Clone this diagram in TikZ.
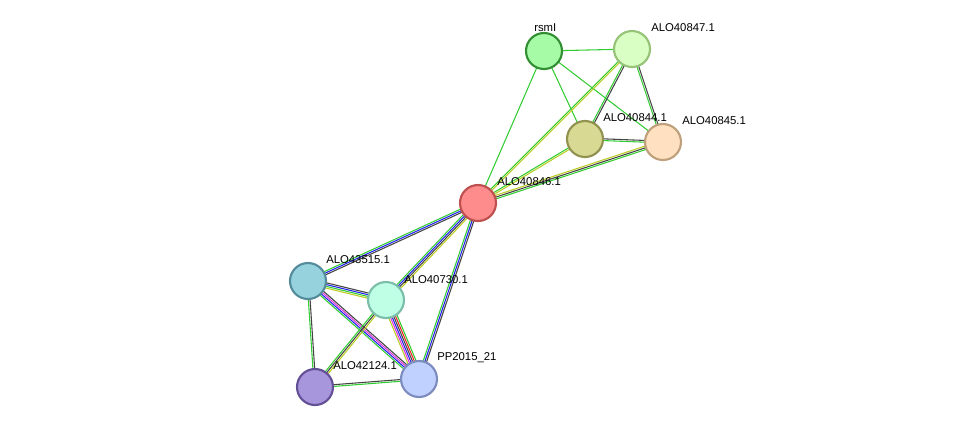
\documentclass[tikz,border=0pt]{standalone}
\usepackage{fontspec}
\setmainfont{Liberation Sans}
\usetikzlibrary{calc}
\definecolor{eg}{HTML}{33CC33}
\definecolor{ek}{HTML}{444444}
\definecolor{eb}{HTML}{2222EE}
\definecolor{ey}{HTML}{BBCC22}
\definecolor{em}{HTML}{DD33DD}
\definecolor{er}{HTML}{EE2222}
\tikzset{
  prot/.style={circle,draw,line width=1.6pt,minimum size=27pt,inner sep=0pt},
  lbl/.style={anchor=west,inner sep=0pt,font=\fontsize{8.5}{10}\selectfont}
}
% parallel coloured lines between two nodes
\newcommand{\edge}[3]{%
  \foreach \c [count=\i] in {#3} {\xdef\ncol{\i}}%
  \foreach \c [count=\i] in {#3} {%
    \pgfmathsetmacro{\off}{(\i-(\ncol+1)/2)*1.3}%
    \draw[\c,line width=0.8pt] ($(#1)!\off pt!90:(#2)$) -- ($(#2)!\off pt!-90:(#1)$);
  }%
}
\begin{document}
\begin{tikzpicture}[x=0.75pt,y=-0.75pt]
\useasboundingbox (0,0) rectangle (976,433);
\coordinate (rsmI) at (544,51);
\coordinate (a847) at (632,49);
\coordinate (a844) at (585,139);
\coordinate (a845) at (663,142);
\coordinate (a846) at (478,203);
\coordinate (a43515) at (308,281);
\coordinate (a40730) at (386,300);
\coordinate (a42124) at (315,387);
\coordinate (pp) at (419,379);
% edges
\edge{rsmI}{a847}{eg}
\edge{rsmI}{a844}{eg}
\edge{rsmI}{a845}{eg}
\edge{rsmI}{a846}{eg}
\edge{a847}{a844}{eg,ek}
\edge{a847}{a845}{eg,ek}
\edge{a847}{a846}{eg,ey}
\edge{a844}{a845}{eg,ek}
\edge{a844}{a846}{eg,ey}
\edge{a845}{a846}{ey,ek,eg}
\edge{a846}{a43515}{eg,eb,ek}
\edge{a846}{a40730}{eg,eb,ek,ey}
\edge{a846}{pp}{eg,eb,ek}
\edge{a43515}{a40730}{ey,eg,eb,ek}
\edge{a43515}{pp}{eg,eb,em,ek}
\edge{a43515}{a42124}{eg,ek}
\edge{a40730}{pp}{ey,em,eb,ek,er,eg}
\edge{a40730}{a42124}{eg,ek,ey}
\edge{a42124}{pp}{eg,ek}
% proteins
\node[prot,draw=green!45!black!80,fill=green!50!black!10!green!35] (nrsmI) at (rsmI) {};
\node[prot,draw={rgb,255:red,150;green,195;blue,120},fill={rgb,255:red,218;green,255;blue,196}] (n847) at (a847) {};
\node[prot,draw={rgb,255:red,145;green,145;blue,80},fill={rgb,255:red,216;green,218;blue,148}] (n844) at (a844) {};
\node[prot,draw={rgb,255:red,190;green,160;blue,125},fill={rgb,255:red,255;green,224;blue,192}] (n845) at (a845) {};
\node[prot,draw={rgb,255:red,190;green,80;blue,80},fill={rgb,255:red,255;green,140;blue,140}] (n846) at (a846) {};
\node[prot,draw={rgb,255:red,85;green,140;blue,155},fill={rgb,255:red,150;green,210;blue,222}] (n43515) at (a43515) {};
\node[prot,draw={rgb,255:red,125;green,190;blue,170},fill={rgb,255:red,190;green,255;blue,230}] (n40730) at (a40730) {};
\node[prot,draw={rgb,255:red,100;green,80;blue,150},fill={rgb,255:red,168;green,150;blue,220}] (n42124) at (a42124) {};
\node[prot,draw={rgb,255:red,125;green,140;blue,190},fill={rgb,255:red,192;green,208;blue,255}] (npp) at (pp) {};
% labels
\node[lbl] at ($(rsmI)+(-10,-23)$) {rsmI};
\node[lbl] at ($(a847)+(19,-21)$) {ALO40847.1};
\node[lbl] at ($(a844)+(18,-21)$) {ALO40844.1};
\node[lbl] at ($(a845)+(19,-21)$) {ALO40845.1};
\node[lbl] at ($(a846)+(19,-21)$) {ALO40846.1};
\node[lbl] at ($(a43515)+(18,-21)$) {ALO43515.1};
\node[lbl] at ($(a40730)+(18,-20)$) {ALO40730.1};
\node[lbl] at ($(a42124)+(18,-21)$) {ALO42124.1};
\node[lbl] at ($(pp)+(18,-21)$) {PP2015\_21};
\end{tikzpicture}
\end{document}
